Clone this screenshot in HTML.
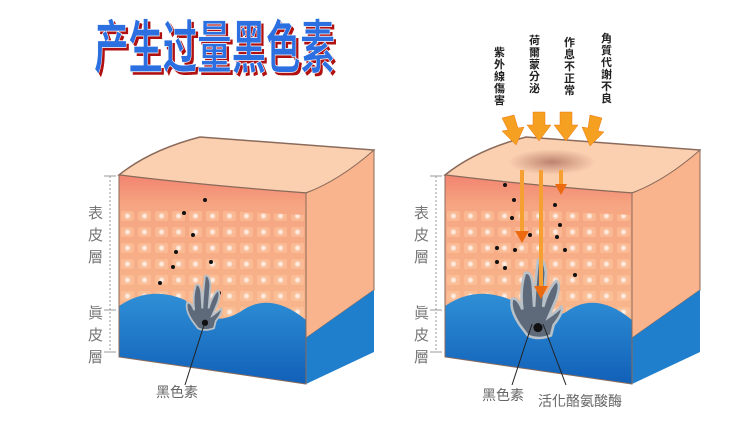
<!DOCTYPE html><html><head><meta charset="utf-8"><style>
body{margin:0;background:#fff;width:750px;height:441px;overflow:hidden;font-family:"Liberation Sans","Noto Sans CJK TC",sans-serif}
</style></head><body>
<svg width="750" height="441" xmlns="http://www.w3.org/2000/svg">
<defs>
<linearGradient id="fr" x1="0" y1="0" x2="0" y2="1"><stop offset="0" stop-color="#f28470"/><stop offset="0.15" stop-color="#f6a682"/><stop offset="1" stop-color="#f9bf92"/></linearGradient>
<linearGradient id="bl" x1="0" y1="0" x2="0" y2="1"><stop offset="0" stop-color="#2f8fd6"/><stop offset="1" stop-color="#1160b8"/></linearGradient>
<radialGradient id="dot"><stop offset="0" stop-color="#fff"/><stop offset="0.5" stop-color="#fff" stop-opacity="0.7"/><stop offset="1" stop-color="#fff" stop-opacity="0"/></radialGradient>
<pattern id="cells" width="17" height="16" patternUnits="userSpaceOnUse"><rect x="2" y="3" width="13" height="10" rx="2" fill="#ffd2ae" opacity="0.35"/><circle cx="8.5" cy="8" r="3.5" fill="url(#dot)" opacity="0.85"/></pattern>
<radialGradient id="sp"><stop offset="0" stop-color="#a86858" stop-opacity="0.75"/><stop offset="1" stop-color="#b07060" stop-opacity="0"/></radialGradient>
<g id="cube">
<path d="M119 175 Q150 150 200 137 L374 150 Q360 175 306 193 Q200 185 119 175Z" fill="#fbd0b0" stroke="#8a6a5a" stroke-width="1.5"/>
<path d="M306 193 Q340 180 374 150 L374 290 L306 338Z" fill="#f9b48e" stroke="#8a6a5a" stroke-width="1"/>
<path d="M306 338 L374 290 L374 352 L306 384Z" fill="#1f7fcc"/>
<path d="M119 175 Q200 185 306 193 L306 384 L119 357Z" fill="url(#fr)"/>
<path d="M119 205 Q200 210 306 215 L306 330 L119 310Z" fill="url(#cells)"/>
<path d="M119 306 Q150 285 185 300 Q210 330 240 312 Q270 290 306 320 L306 384 L119 357Z" fill="url(#bl)"/>
<path d="M119 175 Q200 185 306 193 L306 384 L119 357Z" fill="none" stroke="#8a6a5a" stroke-width="1"/>
</g>
<g id="lab" fill="#777" font-size="15">
<text x="88" y="218">表</text><text x="88" y="240">皮</text><text x="88" y="262">層</text>
<text x="88" y="318">眞</text><text x="88" y="340">皮</text><text x="88" y="362">層</text>
<line x1="110" y1="176" x2="110" y2="352" stroke="#999" stroke-dasharray="2,2"/>
<line x1="104" y1="176" x2="116" y2="176" stroke="#999"/><line x1="104" y1="310" x2="116" y2="310" stroke="#999"/><line x1="104" y1="352" x2="116" y2="352" stroke="#999"/>
</g>
<g id="mel">
<path d="M-14 10 Q-22 -2 -20 -10 Q-16 -12 -12 -2 Q-14 -18 -10 -30 Q-5 -32 -4 -20 L-3 -4 Q-2 -24 0 -40 Q5 -42 6 -30 L4 -4 Q8 -18 14 -24 Q18 -22 14 -10 L8 4 Q14 0 18 -4 Q20 0 12 10 L10 18 Q0 22 -8 18Z" fill="#5e6a7a" stroke="#b8c0c8" stroke-width="2"/>
<circle cx="0" cy="12" r="3.5" fill="#111"/>
</g>
</defs>
<g transform="translate(94,68) scale(0.86,1.45)">
<text x="3" y="2" font-size="40" font-family="'Noto Sans CJK SC',sans-serif" font-weight="bold" fill="#b01010">产生过量黑色素</text>
<text x="0" y="0" font-size="40" font-family="'Noto Sans CJK SC',sans-serif" font-weight="bold" fill="#2b6fe0" stroke="#fff" stroke-width="0.5">产生过量黑色素</text>
</g>
<use href="#cube"/><use href="#lab"/>
<g fill="#111"><circle cx="205" cy="200" r="2"/><circle cx="184" cy="213" r="2"/><circle cx="193" cy="235" r="2"/><circle cx="176" cy="252" r="2"/><circle cx="211" cy="262" r="2"/><circle cx="173" cy="267" r="2"/><circle cx="160" cy="283" r="2"/><circle cx="219" cy="293" r="2"/></g>
<use href="#mel" transform="translate(205,312) scale(0.9)"/>
<line x1="204" y1="325" x2="185" y2="385" stroke="#222"/>
<text x="156" y="397" font-size="14" fill="#666">黑色素</text>
<g transform="translate(326,0)"><use href="#cube"/><use href="#lab"/></g>
<ellipse cx="552" cy="162" rx="44" ry="13" fill="url(#sp)"/>
<g fill="#111"><circle cx="505" cy="185" r="2"/><circle cx="514" cy="200" r="2"/><circle cx="512" cy="218" r="2"/><circle cx="530" cy="235" r="2"/><circle cx="515" cy="250" r="2"/><circle cx="497" cy="248" r="2"/><circle cx="555" cy="205" r="2"/><circle cx="560" cy="225" r="2"/><circle cx="565" cy="250" r="2"/><circle cx="575" cy="275" r="2"/><circle cx="505" cy="268" r="2"/><circle cx="557" cy="237" r="2"/><circle cx="497" cy="262" r="2"/></g>
<use href="#mel" transform="translate(538,312) scale(1.3)"/>
<g stroke="#f5a030" stroke-width="4"><line x1="522" y1="170" x2="522" y2="233"/><line x1="541" y1="170" x2="541" y2="288"/><line x1="561" y1="170" x2="561" y2="186"/></g>
<g fill="#ec6a10"><path d="M515 231 L529 231 L522 243Z"/><path d="M534 286 L548 286 L541 299Z"/><path d="M555 184 L567 184 L561 195Z"/></g>
<line x1="532" y1="324" x2="512" y2="385" stroke="#222"/><line x1="543" y1="324" x2="566" y2="385" stroke="#222"/>
<text x="482" y="400" font-size="14" fill="#666">黑色素</text>
<text x="538" y="406" font-size="14" fill="#666">活化酪氨酸酶</text>
<g fill="#f5a020" stroke="#f07818" stroke-width="0.5">
<path d="M502 118 L514 115 L518 128 L524 127 L516 145 L502 131 L508 130Z"/>
<path d="M533 112 L545 112 L545 125 L551 125 L539 141 L527 125 L533 125Z"/>
<path d="M560 112 L572 112 L572 125 L578 125 L566 141 L554 125 L560 125Z"/>
<path d="M590 115 L602 118 L598 131 L604 132 L590 146 L582 127 L588 128Z"/>
</g>
<g font-size="11" fill="#222" font-weight="bold">
<text transform="translate(494,56)"><tspan x="0" dy="0">紫</tspan><tspan x="0" dy="12">外</tspan><tspan x="0" dy="12">線</tspan><tspan x="0" dy="12">傷</tspan><tspan x="0" dy="12">害</tspan></text>
<text transform="translate(529,44)"><tspan x="0" dy="0">荷</tspan><tspan x="0" dy="12">爾</tspan><tspan x="0" dy="12">蒙</tspan><tspan x="0" dy="12">分</tspan><tspan x="0" dy="12">泌</tspan></text>
<text transform="translate(564,46)"><tspan x="0" dy="0">作</tspan><tspan x="0" dy="12">息</tspan><tspan x="0" dy="12">不</tspan><tspan x="0" dy="12">正</tspan><tspan x="0" dy="12">常</tspan></text>
<text transform="translate(601,42)"><tspan x="0" dy="0">角</tspan><tspan x="0" dy="12">質</tspan><tspan x="0" dy="12">代</tspan><tspan x="0" dy="12">謝</tspan><tspan x="0" dy="12">不</tspan><tspan x="0" dy="12">良</tspan></text>
</g>
</svg>
</body></html>
